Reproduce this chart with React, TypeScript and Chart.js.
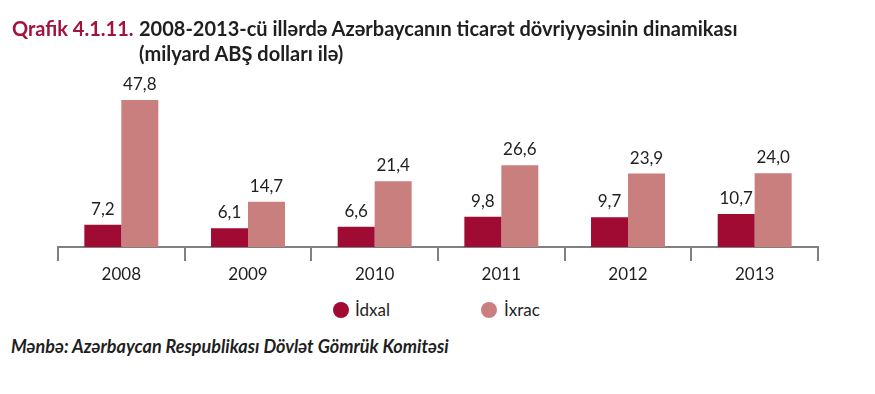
import React, { useEffect, useRef } from "react";
import { Chart, registerables } from "chart.js";

Chart.register(...registerables);

const years = ["2008", "2009", "2010", "2011", "2012", "2013"];
const idxal = [7.2, 6.1, 6.6, 9.8, 9.7, 10.7];
const ixrac = [47.8, 14.7, 21.4, 26.6, 23.9, 24.0];
const seriesNames = ["İdxal", "İxrac"];
const DARK = "#A00B33";
const LIGHT = "#C97F7E";
const TEXT = "#1f1f1f";
const FONT = "Lato, 'Open Sans', sans-serif";

const fmt = (v: number) => v.toFixed(1).replace(".", ",");

const valueLabels = {
  id: "valueLabels",
  afterDatasetsDraw(chart: any) {
    const ctx = chart.ctx;
    ctx.save();
    ctx.font = `17px ${FONT}`;
    ctx.fillStyle = TEXT;
    ctx.textAlign = "center";
    ctx.textBaseline = "alphabetic";
    chart.data.datasets.forEach((ds: any, i: number) => {
      const meta = chart.getDatasetMeta(i);
      meta.data.forEach((bar: any, j: number) => {
        ctx.fillText(fmt(ds.data[j]), bar.x, bar.y - 10);
      });
    });
    ctx.restore();
  },
};

function BarChart() {
  const ref = useRef<HTMLCanvasElement>(null);
  useEffect(() => {
    if (!ref.current) return;
    const chart = new Chart(ref.current, {
      type: "bar",
      data: {
        labels: years,
        datasets: [
          { label: seriesNames[0], data: idxal, backgroundColor: DARK },
          { label: seriesNames[1], data: ixrac, backgroundColor: LIGHT },
        ],
      },
      options: {
        animation: false,
        responsive: false,
        maintainAspectRatio: false,
        layout: { padding: { left: 58, right: 57, top: 70, bottom: 0 } },
        datasets: { bar: { categoryPercentage: 0.584, barPercentage: 1.0 } },
        plugins: { legend: { display: false }, tooltip: { enabled: false }, title: { display: false } },
        scales: {
          x: {
            afterFit: (s: any) => { s.height = 43; },
            grid: {
              display: true,
              drawOnChartArea: false,
              drawTicks: true,
              tickLength: 14,
              color: "#808080",
              lineWidth: 2,
              offset: true,
            },
            border: { display: true, color: "#808080", width: 2 },
            ticks: { color: TEXT, font: { family: FONT, size: 17 }, padding: 3 },
          },
          y: {
            display: false,
            min: 0,
            max: 177 / 3.075,
          },
        },
      },
      plugins: [valueLabels],
    });
    return () => chart.destroy();
  }, []);
  return (
    <canvas
      ref={ref}
      width={875}
      height={290}
      style={{ position: "absolute", left: 0, top: 0, width: 875, height: 290 }}
    />
  );
}

export default function App() {
  const legendItems = [
    { name: seriesNames[0], color: DARK, cx: 340.5, tx: 355 },
    { name: seriesNames[1], color: LIGHT, cx: 488.5, tx: 504 },
  ];
  return (
    <div style={{ position: "absolute", left: 0, top: 0, width: 875, height: 394, background: "#fff", overflow: "hidden", fontFamily: FONT }}>
      <BarChart />
      <div style={{ position: "absolute", left: 12, top: 16, fontSize: 20, fontWeight: 700, lineHeight: "25px", color: TEXT, whiteSpace: "nowrap" }}>
        <span style={{ color: "#A3113D" }}>Qrafik 4.1.11.</span>
      </div>
      <div style={{ position: "absolute", left: 139, top: 16, fontSize: 20, fontWeight: 700, lineHeight: "25px", color: TEXT, whiteSpace: "nowrap" }}>
        2008-2013-cü illərdə Azərbaycanın ticarət dövriyyəsinin dinamikası
        <br />
        (milyard ABŞ dolları ilə)
      </div>
      {legendItems.map((it) => (
        <React.Fragment key={it.name}>
          <div style={{ position: "absolute", left: it.cx - 8, top: 301.5, width: 16, height: 16, borderRadius: 8, background: it.color }} />
          <div style={{ position: "absolute", left: it.tx, top: 299.5, fontSize: 17, lineHeight: "20px", color: TEXT, whiteSpace: "nowrap" }}>{it.name}</div>
        </React.Fragment>
      ))}
      <div style={{ position: "absolute", left: 11, top: 336, fontSize: 18, lineHeight: "20px", fontWeight: 700, fontStyle: "italic", color: TEXT, whiteSpace: "nowrap" }}>
        Mənbə: Azərbaycan Respublikası Dövlət Gömrük Komitəsi
      </div>
    </div>
  );
}
